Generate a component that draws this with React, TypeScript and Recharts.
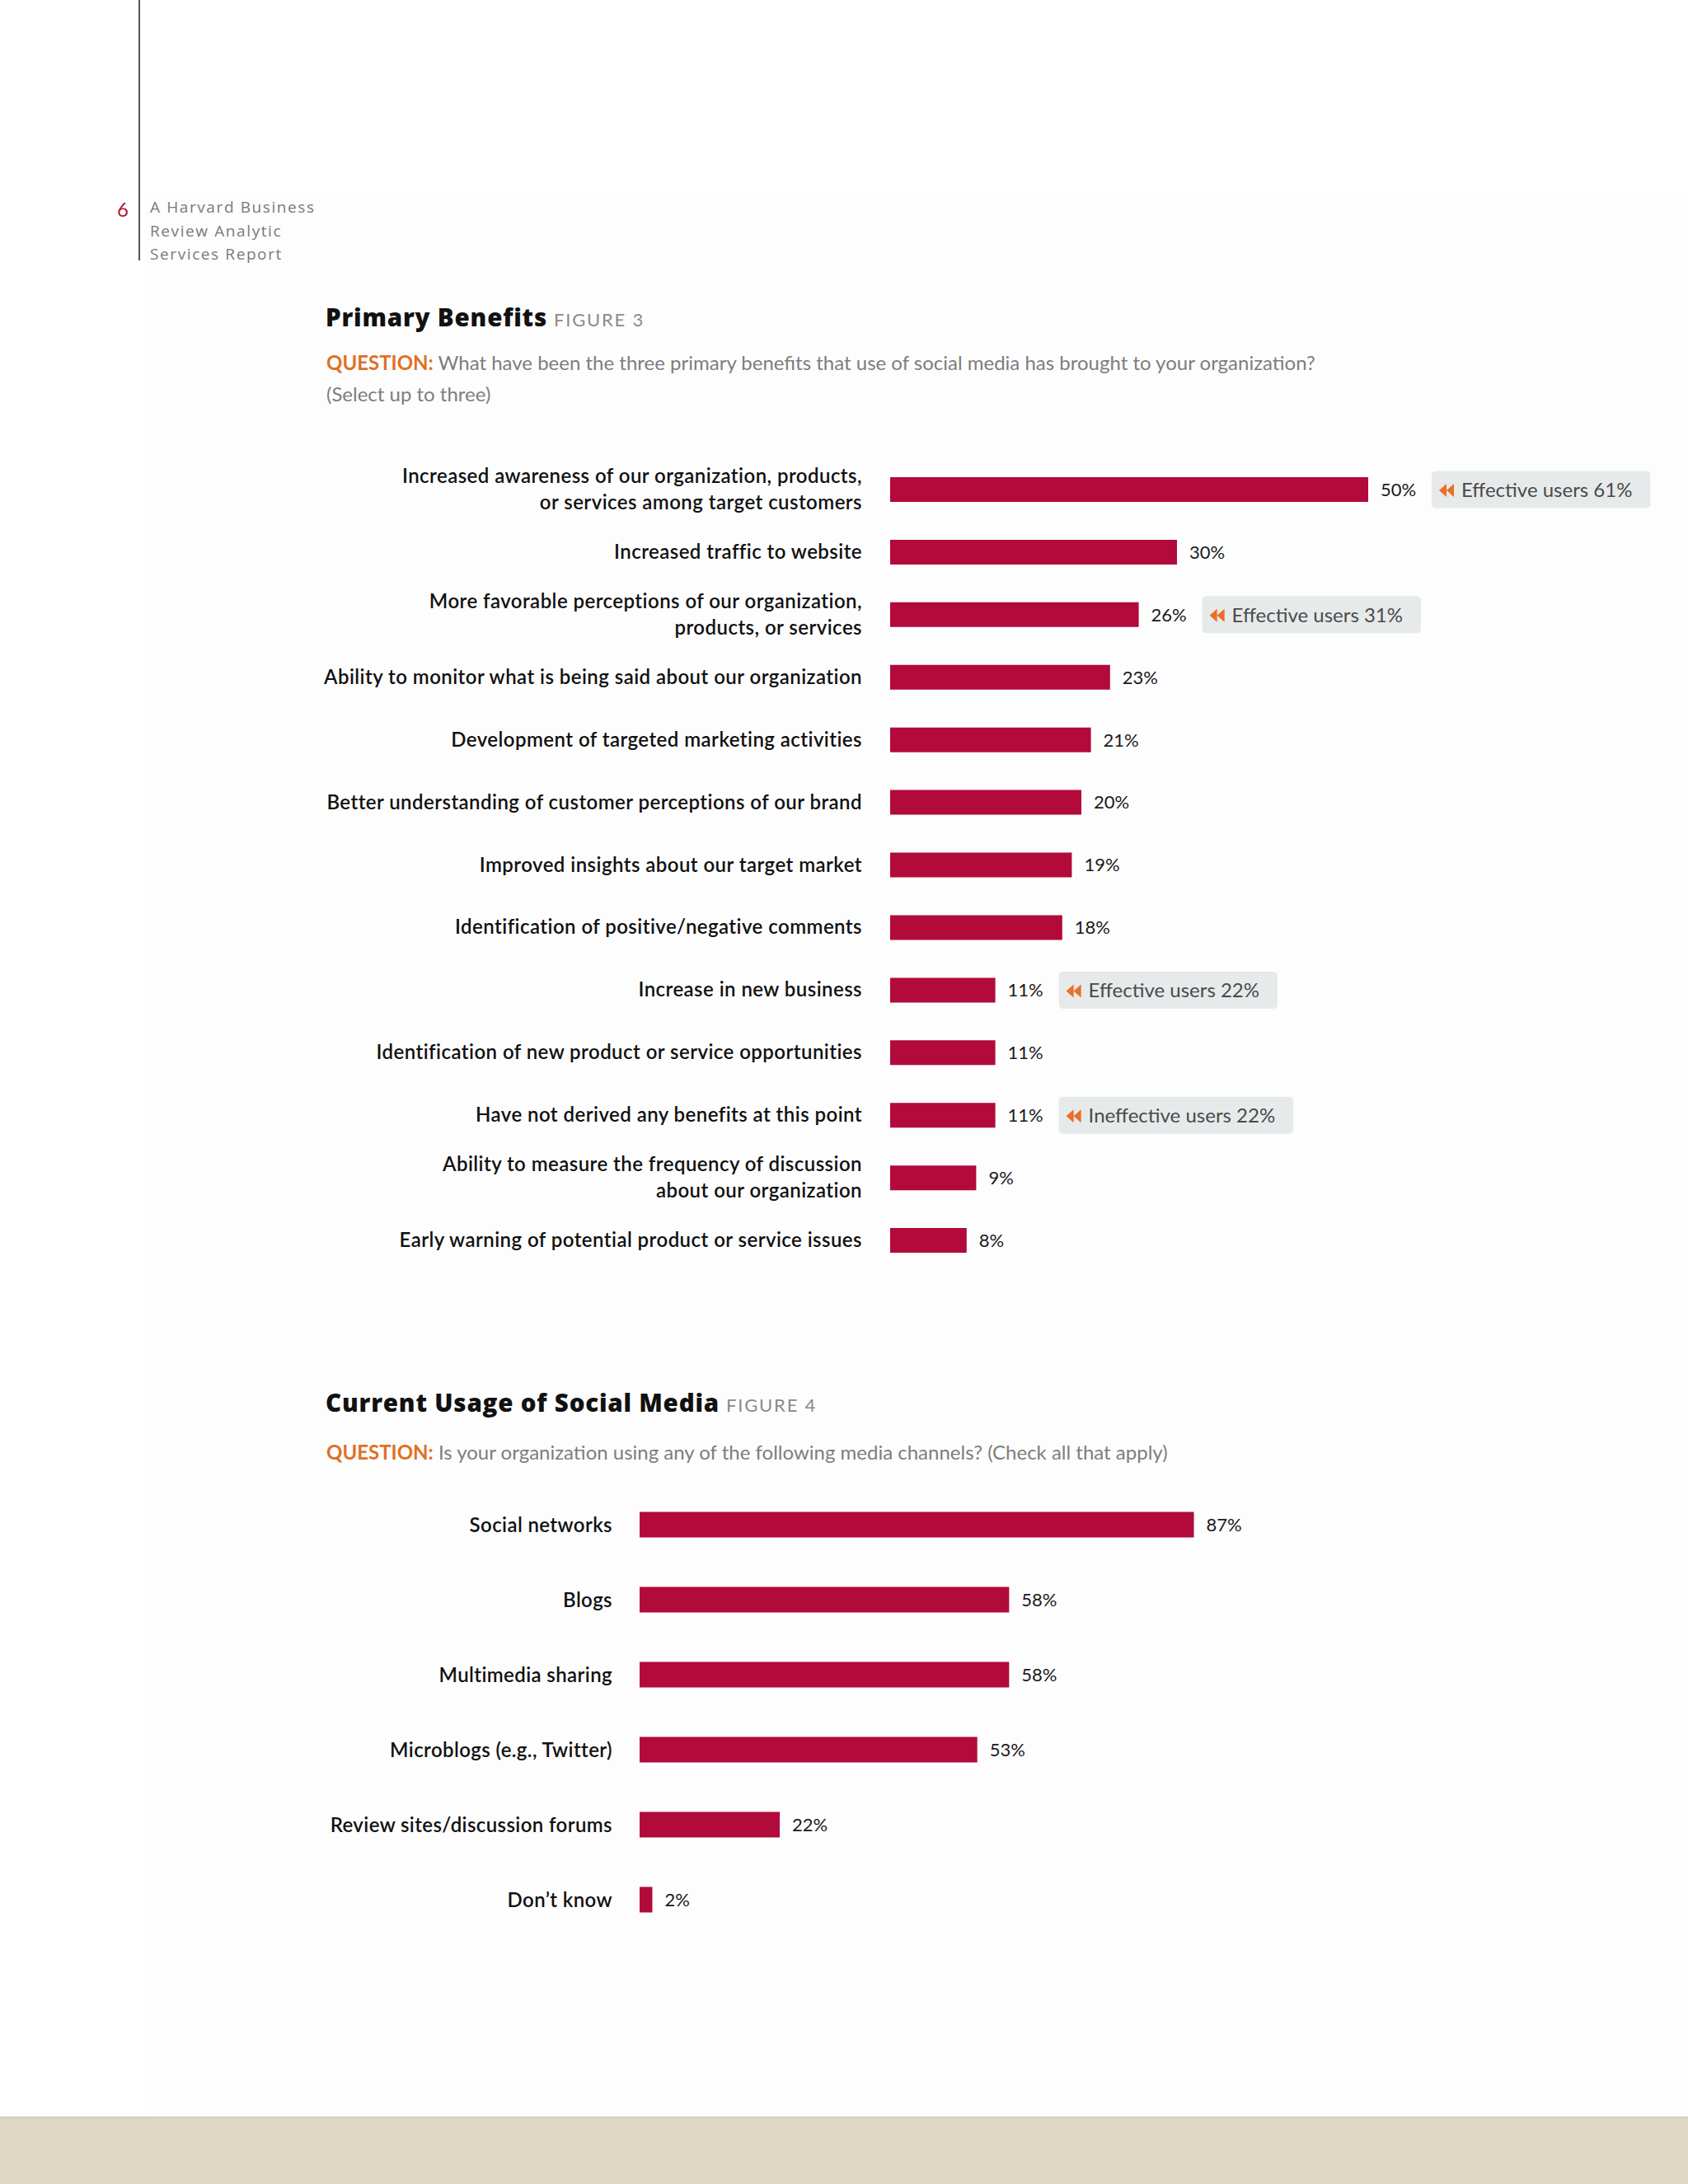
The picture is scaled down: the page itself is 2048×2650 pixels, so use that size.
import React from 'react';
import { BarChart, Bar, XAxis, YAxis, LabelList } from 'recharts';

// ---------- DATA ----------
const benefitCategories = [
  'Increased awareness of our organization, products,\nor services among target customers',
  'Increased traffic to website',
  'More favorable perceptions of our organization,\nproducts, or services',
  'Ability to monitor what is being said about our organization',
  'Development of targeted marketing activities',
  'Better understanding of customer perceptions of our brand',
  'Improved insights about our target market',
  'Identification of positive/negative comments',
  'Increase in new business',
  'Identification of new product or service opportunities',
  'Have not derived any benefits at this point',
  'Ability to measure the frequency of discussion\nabout our organization',
  'Early warning of potential product or service issues',
];
const benefitValues = [50, 30, 26, 23, 21, 20, 19, 18, 11, 11, 11, 9, 8];
const benefitCallouts = [
  'Effective users 61%', '', 'Effective users 31%', '', '', '', '', '',
  'Effective users 22%', '', 'Ineffective users 22%', '', '',
];

const usageCategories = [
  'Social networks',
  'Blogs',
  'Multimedia sharing',
  'Microblogs (e.g., Twitter)',
  'Review sites/discussion forums',
  'Don\u2019t know',
];
const usageValues = [87, 58, 58, 53, 22, 2];

// ---------- STYLE ----------
const FONT = 'Lato, "Open Sans", sans-serif';
const TITLE_FONT = '"Open Sans", Lato, sans-serif';
const BAR = '#b20a3a';
const TEXT = '#111111';

const benefitData = benefitCategories.map((name, i) => ({
  name,
  value: benefitValues[i],
  callout: benefitCallouts[i],
}));
const usageData = usageCategories.map((name, i) => ({ name, value: usageValues[i] }));

let ctx: CanvasRenderingContext2D | null = null;
const measure = (text: string, font: string) => {
  if (!ctx) ctx = document.createElement('canvas').getContext('2d');
  if (!ctx) return text.length * 11;
  ctx.font = font;
  return ctx.measureText(text).width;
};

const CategoryTick = (props: any) => {
  const { x, y, payload, gap, fontSize, single, lineH, spacing } = props;
  const lines = String(payload.value).split('\n');
  const first = lines.length === 1 ? single : single - 16;
  return (
    <text
      textAnchor="end"
      fontFamily={FONT}
      fontWeight={600}
      fontSize={fontSize}
      letterSpacing={spacing}
      fill={TEXT}
    >
      {lines.map((l: string, i: number) => (
        <tspan key={i} x={x - gap} y={y + first + i * lineH}>
          {l}
        </tspan>
      ))}
    </text>
  );
};

const Callout = (props: any) => {
  const { x, y, width, height, value } = props;
  if (!value) return null;
  const fs = 24;
  const tw = measure(String(value), `400 ${fs}px Lato`);
  const bx = x + width + 77;
  const cy = y + height / 2;
  const bh = 45;
  const bw = 36 + tw + 22;
  return (
    <g>
      <rect x={bx} y={cy - bh / 2} width={bw} height={bh} rx={5} ry={5} fill="#e7eaeb" />
      <polygon points={`${bx + 9},${cy + 1} ${bx + 18},${cy - 7} ${bx + 18},${cy + 9}`} fill="#e8702a" />
      <polygon points={`${bx + 18},${cy + 1} ${bx + 27},${cy - 7} ${bx + 27},${cy + 9}`} fill="#e8702a" />
      <text x={bx + 36} y={cy + 9} fontFamily={FONT} fontSize={fs} fill="#4a4a4a">
        {value}
      </text>
    </g>
  );
};

const pct = (v: any) => `${v}%`;

export default function App() {
  return (
    <div style={{ position: 'absolute', left: 0, top: 0, width: 2048, height: 2650, background: '#ffffff', overflow: 'hidden' }}>
      <svg width={2048} height={2650} style={{ position: 'absolute', left: 0, top: 0 }}>
        <rect x={176} y={235} width={1872} height={2333} fill="#fdfdfd" />
        <rect x={0} y={2568} width={2048} height={82} fill="#dfd8c5" />
        <rect x={0} y={2568} width={2048} height={3} fill="#d6d1bb" />
        {/* header */}
        <line x1={169} y1={0} x2={169} y2={316} stroke="#555" strokeWidth={2} />
        <text x={142} y={263} fontFamily={FONT} fontSize={24} fill="#b0153c">6</text>
        <g fontFamily='"Open Sans", sans-serif' fontSize={19} fill="#7a7a7a" letterSpacing={1.6}>
          <text x={182} y={258}>A Harvard Business</text>
          <text x={182} y={287}>Review Analytic</text>
          <text x={182} y={315}>Services Report</text>
        </g>
        {/* figure 3 header */}
        <text x={395} y={396} fontFamily={TITLE_FONT} fontWeight={800} fontSize={29.5} letterSpacing={0.8} fill="#111">
          Primary Benefits
          <tspan dx={8} fontFamily={FONT} fontWeight={400} fontSize={22} fill="#8a8a8a" letterSpacing={1.8}>FIGURE 3</tspan>
        </text>
        <text x={396} y={449} fontFamily={FONT} fontSize={24} fill="#7d7d7d">
          <tspan fontWeight={700} fill="#e07026">QUESTION:</tspan>
          <tspan> What have been the three primary benefits that use of social media has brought to your organization?</tspan>
        </text>
        <text x={396} y={487} fontFamily={FONT} fontSize={24} fill="#7d7d7d">(Select up to three)</text>
        {/* figure 4 header */}
        <text x={395} y={1713} fontFamily={TITLE_FONT} fontWeight={800} fontSize={29.5} letterSpacing={0.8} fill="#111">
          Current Usage of Social Media
          <tspan dx={8} fontFamily={FONT} fontWeight={400} fontSize={22} fill="#8a8a8a" letterSpacing={1.8}>FIGURE 4</tspan>
        </text>
        <text x={396} y={1771} fontFamily={FONT} fontSize={24} fill="#7d7d7d">
          <tspan fontWeight={700} fill="#e07026">QUESTION:</tspan>
          <tspan> Is your organization using any of the following media channels? (Check all that apply)</tspan>
        </text>
      </svg>

      <div style={{ position: 'absolute', left: 0, top: 540 }}>
        <BarChart
          width={2048}
          height={1020}
          data={benefitData}
          layout="vertical"
          margin={{ top: 16, right: 272, bottom: 17, left: 0 }}
        >
          <XAxis type="number" domain={[0, 60]} hide />
          <YAxis
            type="category"
            dataKey="name"
            width={1080}
            axisLine={false}
            tickLine={false}
            tickSize={0}
            tickMargin={0}
            interval={0}
            tick={<CategoryTick gap={34} fontSize={24} single={8} lineH={32} spacing={0.45} />}
          />
          <Bar dataKey="value" fill={BAR} barSize={30} isAnimationActive={false}>
            <LabelList
              dataKey="value"
              position="right"
              offset={15}
              formatter={pct}
              fontFamily={FONT}
              fontSize={22}
              fill="#1a1a1a"
            />
            <LabelList dataKey="callout" content={<Callout />} />
          </Bar>
        </BarChart>
      </div>

      <div style={{ position: 'absolute', left: 0, top: 1790 }}>
        <BarChart
          width={2048}
          height={571}
          data={usageData}
          layout="vertical"
          margin={{ top: 14.5, right: 499, bottom: 10.5, left: 0 }}
        >
          <XAxis type="number" domain={[0, 100]} hide />
          <YAxis
            type="category"
            dataKey="name"
            width={776}
            axisLine={false}
            tickLine={false}
            tickSize={0}
            tickMargin={0}
            interval={0}
            tick={<CategoryTick gap={33} fontSize={24} single={9} lineH={32} spacing={0.4} />}
          />
          <Bar dataKey="value" fill={BAR} barSize={31} isAnimationActive={false}>
            <LabelList
              dataKey="value"
              position="right"
              offset={15}
              formatter={pct}
              fontFamily={FONT}
              fontSize={22}
              fill="#1a1a1a"
            />
          </Bar>
        </BarChart>
      </div>
    </div>
  );
}
